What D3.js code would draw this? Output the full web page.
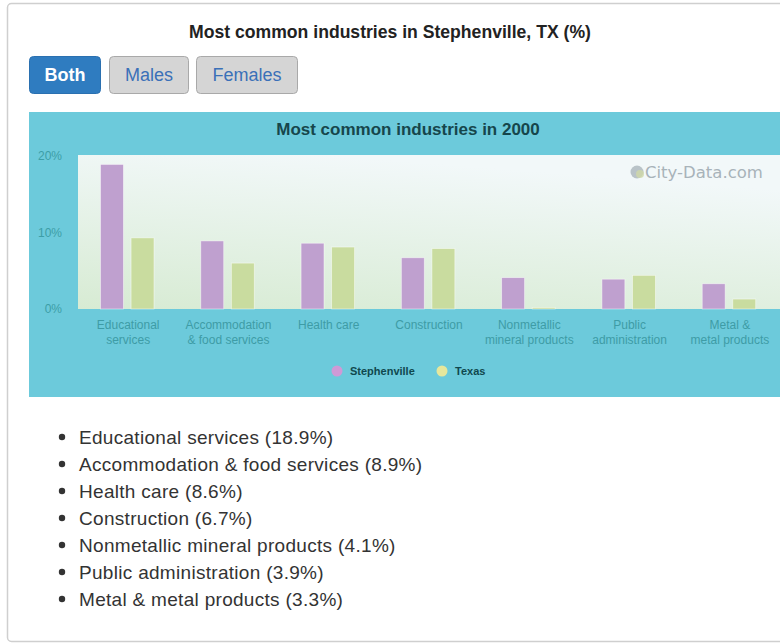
<!DOCTYPE html>
<html>
<head>
<meta charset="utf-8">
<script src="https://cdn.jsdelivr.net/npm/d3@7"></script>
<style>
  html, body { margin: 0; padding: 0; background: #ffffff; }
  svg { display: block; }
</style>
</head>
<body>
<svg id="chart" width="780" height="644"></svg>
<script>
// ---------- data ----------
const categories = ["Educational services", "Accommodation & food services", "Health care", "Construction", "Nonmetallic mineral products", "Public administration", "Metal & metal products"];
const axisLabelLines = [["Educational", "services"], ["Accommodation", "& food services"], ["Health care"], ["Construction"], ["Nonmetallic", "mineral products"], ["Public", "administration"], ["Metal &", "metal products"]];
const seriesNames = ["Stephenville", "Texas"];
const stephenville = [18.9, 8.9, 8.6, 6.7, 4.1, 3.9, 3.3];
const texas = [9.3, 6.0, 8.1, 7.9, 0.2, 4.4, 1.3];
const yTicks = [0, 10, 20];
const buttons = ["Both", "Males", "Females"];
const pageTitle = "Most common industries in Stephenville, TX (%)";
const chartTitle = "Most common industries in 2000";

// ---------- setup ----------
const svg = d3.select("#chart");
const font = "'Liberation Sans', Arial, Helvetica, sans-serif";
const colors = { Stephenville: "#bfa0cf", Texas: "#c9dc9f" };
const legendColors = { Stephenville: "#cf9ad6", Texas: "#e6e79c" };

const defs = svg.append("defs");
const grad = defs.append("linearGradient").attr("id", "plotbg")
  .attr("x1", "0").attr("y1", "1").attr("x2", "0.35").attr("y2", "0");
grad.append("stop").attr("offset", "0").attr("stop-color", "#d7ebd3");
grad.append("stop").attr("offset", "1").attr("stop-color", "#f2f8f9");

// outer panel
svg.append("rect").attr("x", 7.5).attr("y", 3.5).attr("width", 800).attr("height", 638)
  .attr("rx", 4).attr("fill", "#fff").attr("stroke", "#cfcfcf").attr("stroke-width", 1.5);

// page title
svg.append("text").attr("x", 390).attr("y", 38).attr("text-anchor", "middle")
  .attr("font-family", font).attr("font-weight", "bold").attr("font-size", 17.6)
  .attr("fill", "#222").text(pageTitle);

// buttons
const btnX = d3.scaleOrdinal().domain(buttons).range([29, 109, 196]);
const btnW = d3.scaleOrdinal().domain(buttons).range([72, 80, 102]);
const btn = svg.selectAll("g.btn").data(buttons).join("g").attr("class", "btn")
  .attr("transform", d => `translate(${btnX(d)},56)`);
btn.append("rect").attr("x", 0.5).attr("y", 0.5)
  .attr("width", d => btnW(d) - 1).attr("height", 37).attr("rx", 4)
  .attr("fill", (d, i) => i === 0 ? "#2f7cc0" : "#d5d5d5")
  .attr("stroke", (d, i) => i === 0 ? "#2a70b0" : "#a9a9a9");
btn.append("text").attr("x", d => btnW(d) / 2).attr("y", 25).attr("text-anchor", "middle")
  .attr("font-family", font).attr("font-size", 18)
  .attr("font-weight", (d, i) => i === 0 ? "bold" : "normal")
  .attr("fill", (d, i) => i === 0 ? "#fff" : "#3a70b8").text(d => d);

// teal chart panel
svg.append("rect").attr("x", 29).attr("y", 112).attr("width", 760).attr("height", 285)
  .attr("fill", "#6ccadb");

svg.append("text").attr("x", 408).attr("y", 135).attr("text-anchor", "middle")
  .attr("font-family", font).attr("font-weight", "bold").attr("font-size", 17)
  .attr("fill", "#16464b").text(chartTitle);

// plot area
const plot = { left: 78, right: 780, top: 155, bottom: 309 };
svg.append("rect").attr("x", plot.left).attr("y", plot.top)
  .attr("width", plot.right - plot.left).attr("height", plot.bottom - plot.top)
  .attr("fill", "url(#plotbg)");

// watermark
const wm = svg.append("g").attr("transform", "translate(637,172)");
wm.append("circle").attr("cx", 0).attr("cy", 0).attr("r", 6.5).attr("fill", "#b9c3c8");
wm.append("circle").attr("cx", 3).attr("cy", 2).attr("r", 4).attr("fill", "#d0d8a8").attr("opacity", 0.8);
wm.append("text").attr("x", 8).attr("y", 6).attr("font-family", "'DejaVu Sans', Verdana, sans-serif")
  .attr("font-size", 16.5).attr("fill", "#a8b3b9").text("City-Data.com");

// scales
const x0 = d3.scaleBand().domain(categories).range([plot.left, plot.right]);
const x1 = d3.scaleBand().domain(seriesNames).range([22.5, 76]).paddingInner(0.25);
const y = d3.scaleLinear().domain([0, 20]).range([plot.bottom, 156]);

const rows = categories.map((c, i) => ({ cat: c, values: [
  { key: "Stephenville", value: stephenville[i] },
  { key: "Texas", value: texas[i] }
]}));

// bars
const groups = svg.append("g").selectAll("g").data(rows).join("g")
  .attr("transform", d => `translate(${x0(d.cat)},0)`);
groups.selectAll("rect").data(d => d.values).join("rect")
  .attr("x", d => x1(d.key)).attr("width", x1.bandwidth())
  .attr("y", d => y(d.value)).attr("height", d => y(0) - y(d.value))
  .attr("fill", d => colors[d.key])
  .attr("stroke", "#ffffff").attr("stroke-opacity", 0.55).attr("stroke-width", 0.8);

// y axis
const yAxis = svg.append("g").attr("transform", "translate(62,0)")
  .call(d3.axisLeft(y).tickValues(yTicks).tickSize(0).tickPadding(0).tickFormat(d => d + "%"));
yAxis.select(".domain").remove();
yAxis.selectAll("text").attr("font-family", font).attr("font-size", 12)
  .attr("fill", "#3d9ea7");

// x axis
const xAxis = svg.append("g").attr("transform", `translate(0,${plot.bottom})`)
  .call(d3.axisBottom(x0).tickSize(0).tickFormat(""));
xAxis.select(".domain").remove();
xAxis.selectAll(".tick").each(function(d, i) {
  const t = d3.select(this).append("text").attr("text-anchor", "middle")
    .attr("font-family", font).attr("font-size", 12).attr("fill", "#3e9ca6");
  axisLabelLines[i].forEach((line, j) => {
    t.append("tspan").attr("x", 0).attr("y", 20 + j * 14.5).text(line);
  });
});

// legend
const legendX = d3.scaleOrdinal().domain(seriesNames).range([337, 442]);
const lg = svg.selectAll("g.legend").data(seriesNames).join("g").attr("class", "legend")
  .attr("transform", d => `translate(${legendX(d)},371)`);
lg.append("circle").attr("r", 5.5).attr("fill", d => legendColors[d]);
lg.append("text").attr("x", 13).attr("y", 4).attr("font-family", font)
  .attr("font-weight", "bold").attr("font-size", 11).attr("fill", "#10484e").text(d => d);

// list
const list = svg.selectAll("g.item").data(categories).join("g").attr("class", "item")
  .attr("transform", (d, i) => `translate(0,${437 + i * 27})`);
list.append("circle").attr("cx", 62).attr("cy", 0).attr("r", 3.2).attr("fill", "#333");
list.append("text").attr("x", 79).attr("y", 6.8).attr("font-family", font)
  .attr("font-size", 19).attr("letter-spacing", 0.3).attr("fill", "#333")
  .text((d, i) => `${d} (${stephenville[i]}%)`);
</script>
</body>
</html>
